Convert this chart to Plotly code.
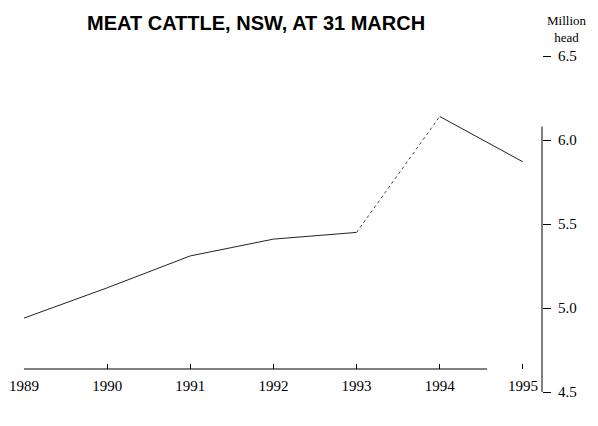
import plotly.graph_objects as go

years = [1989, 1990, 1991, 1992, 1993, 1994, 1995]
cattle_million_head = [4.94, 5.12, 5.31, 5.41, 5.45, 6.14, 5.87]
year_labels = ["1989", "1990", "1991", "1992", "1993", "1994", "1995"]
y_ticks = [4.5, 5.0, 5.5, 6.0, 6.5]
y_tick_labels = ["4.5", "5.0", "5.5", "6.0", "6.5"]

serif = "Liberation Serif, Times New Roman, serif"

fig = go.Figure()
# solid part 1989-1993
fig.add_trace(go.Scatter(x=years[:5], y=cattle_million_head[:5], mode="lines",
                         line=dict(color="#222", width=1), hoverinfo="skip"))
# faded (dotted in scan) part 1993-1994
fig.add_trace(go.Scatter(x=years[4:6], y=cattle_million_head[4:6], mode="lines",
                         line=dict(color="#444", width=1, dash="dot"), hoverinfo="skip"))
# solid part 1994-1995
fig.add_trace(go.Scatter(x=years[5:], y=cattle_million_head[5:], mode="lines",
                         line=dict(color="#222", width=1), hoverinfo="skip"))

xpos = 23 / 336.0

fig.update_layout(
    width=590, height=418,
    margin=dict(l=16, r=56, t=48, b=34, autoexpand=False),
    paper_bgcolor="white", plot_bgcolor="white",
    showlegend=False,
    title=dict(text="<b>MEAT CATTLE, NSW, AT 31 MARCH</b>", x=0.448, xanchor="center",
               xref="paper", yref="container", y=0.98, yanchor="top",
               font=dict(family="Liberation Sans, Arial, sans-serif", size=20, color="black")),
    xaxis=dict(range=[1989, 1995.23], tickvals=years, ticktext=year_labels,
               anchor="free", position=xpos, showgrid=False, zeroline=False,
               showline=False, ticks="inside", ticklen=5, tickcolor="black",
               automargin=False, ticklabelstandoff=6,
               tickfont=dict(family=serif, size=15, color="black")),
    yaxis=dict(range=[4.5, 6.5], side="right", tickvals=y_ticks, ticktext=y_tick_labels,
               showgrid=False, zeroline=False, showline=False, ticks="outside",
               ticklen=8, tickcolor="black", automargin=False, ticklabelstandoff=4,
               tickfont=dict(family=serif, size=15, color="black")),
)

# axis lines (partially drawn as in the scan)
fig.add_shape(type="line", xref="x", yref="paper", x0=1989, x1=1994.57, y0=xpos, y1=xpos,
              line=dict(color="black", width=1))
fig.add_shape(type="line", xref="paper", yref="y", x0=1, x1=1, y0=4.5, y1=6.08,
              line=dict(color="black", width=1))

fig.add_annotation(text="Million<br>head", xref="paper", yref="paper", x=1.048, y=1.0,
                   xanchor="center", yanchor="bottom", showarrow=False, align="center",
                   yshift=9, font=dict(family=serif, size=13, color="black"))

fig.write_html("out.html")
